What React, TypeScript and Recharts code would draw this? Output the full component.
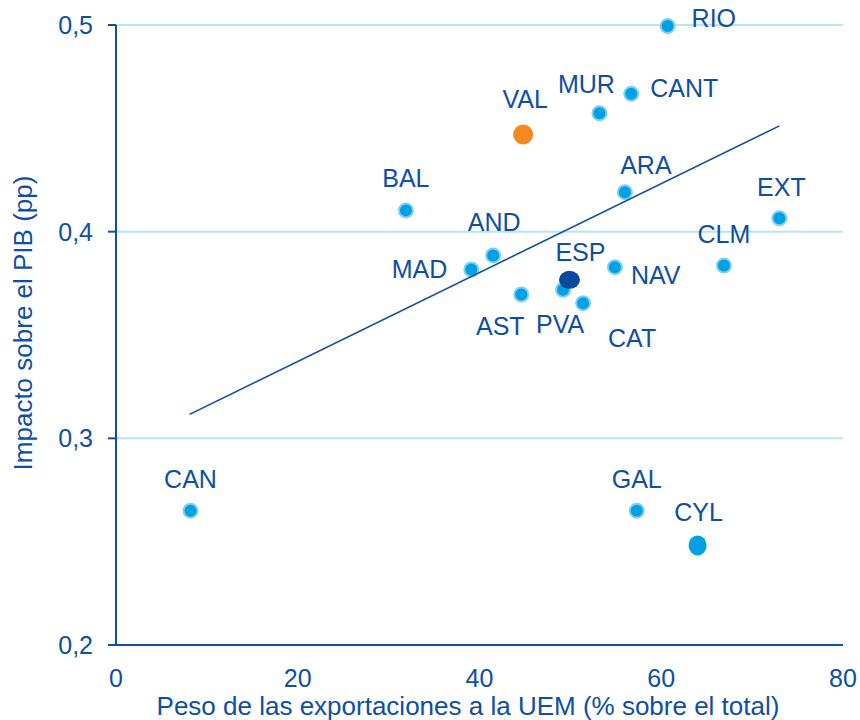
import React from 'react';
import {
  ScatterChart,
  Scatter,
  XAxis,
  YAxis,
  CartesianGrid,
  Label,
} from 'recharts';

// Regiones (ESP al final para que quede por encima de PVA)
const regions = ['RIO', 'CANT', 'MUR', 'VAL', 'ARA', 'BAL', 'EXT', 'AND', 'MAD', 'NAV', 'CLM', 'AST', 'PVA', 'CAT', 'CAN', 'GAL', 'CYL', 'ESP'];
// Peso de las exportaciones a la UEM (% sobre el total)
const exportShare = [60.7, 56.7, 53.2, 44.8, 56.0, 31.9, 73.0, 41.5, 39.1, 54.9, 66.9, 44.6, 49.2, 51.4, 8.2, 57.3, 64.0, 49.9];
// Impacto sobre el PIB (pp)
const gdpImpact = [0.4995, 0.4667, 0.4573, 0.447, 0.4191, 0.4103, 0.4065, 0.3885, 0.3817, 0.3828, 0.3836, 0.3696, 0.3719, 0.3654, 0.265, 0.265, 0.2482, 0.3767];

// Recta de tendencia (extremos)
const trendX = [8.1, 73.0];
const trendY = [0.3116, 0.4512];

const xTicks = [0, 20, 40, 60, 80];
const yTicks = [0.2, 0.3, 0.4, 0.5];

const DARK = '#0d4ea6';
const LIGHT = '#00a0e3';
const FONT = '"Liberation Sans", Arial, sans-serif';
const FS = 25;

// posición de cada etiqueta respecto al punto: dx, dy (línea base), anclaje
const labelPos: Record<string, [number, number, string]> = {
  RIO: [24, 1, 'start'],
  CANT: [19, 3, 'start'],
  MUR: [-13, -20, 'middle'],
  VAL: [2, -27, 'middle'],
  ARA: [21, -18, 'middle'],
  BAL: [0, -23, 'middle'],
  EXT: [2, -22, 'middle'],
  AND: [1, -24, 'middle'],
  MAD: [-24, 9, 'end'],
  ESP: [11, -19, 'middle'],
  NAV: [16, 17, 'start'],
  CLM: [0, -23, 'middle'],
  AST: [-21, 41, 'middle'],
  PVA: [-3, 43, 'middle'],
  CAT: [49, 44, 'middle'],
  CAN: [0, -23, 'middle'],
  GAL: [0, -23, 'middle'],
  CYL: [1, -24, 'middle'],
};

const special: Record<string, { fill: string; rx: number; ry: number }> = {
  VAL: { fill: '#f5891f', rx: 10, ry: 10 },
  ESP: { fill: '#0a4a9e', rx: 10.5, ry: 9 },
  CYL: { fill: LIGHT, rx: 9, ry: 10 },
};

const points = regions.map((name, i) => ({ name, x: exportShare[i], y: gdpImpact[i] }));
const trend = trendX.map((x, i) => ({ x, y: trendY[i] }));

const renderPoint = (props: any) => {
  const { cx, cy, payload } = props;
  const s = special[payload.name];
  const [dx, dy, anchor] = labelPos[payload.name] || [0, -24, 'middle'];
  return (
    <g>
      {s ? (
        <ellipse cx={cx} cy={cy} rx={s.rx} ry={s.ry} fill={s.fill} />
      ) : (
        <circle cx={cx} cy={cy} r={7} fill={LIGHT} stroke="#7fd0f2" strokeWidth={2} />
      )}
      <text
        x={cx + dx}
        y={cy + dy}
        textAnchor={anchor as any}
        fill={DARK}
        fontSize={FS}
        fontFamily={FONT}
      >
        {payload.name}
      </text>
    </g>
  );
};

const App = () => {
  return (
    <div style={{ position: 'absolute', left: 0, top: 0, width: 860, height: 720, background: '#fff' }}>
      <ScatterChart width={860} height={720} margin={{ top: 25, right: 17, left: 0, bottom: 0 }}>
        <CartesianGrid horizontal vertical={false} stroke="#b9e4f7" strokeWidth={2} />
        <XAxis
          type="number"
          dataKey="x"
          domain={[0, 80]}
          ticks={xTicks}
          height={75}
          tickLine={false}
          tickSize={0}
          tickMargin={24}
          axisLine={{ stroke: DARK, strokeWidth: 2 }}
          tick={{ fill: DARK, fontSize: FS, fontFamily: FONT }}
        >
          <Label
            content={() => (
              <text
                x={468}
                y={715}
                textAnchor="middle"
                fill={DARK}
                fontSize={26}
                fontFamily={FONT}
                style={{ whiteSpace: 'pre' }}
              >
                Peso de las exportaciones a la UEM (% sobre el total)
              </text>
            )}
          />
        </XAxis>
        <YAxis
          type="number"
          dataKey="y"
          domain={[0.2, 0.5]}
          ticks={yTicks}
          width={116}
          tickSize={8}
          tickMargin={15}
          tickLine={{ stroke: DARK, strokeWidth: 2 }}
          axisLine={{ stroke: DARK, strokeWidth: 2 }}
          tick={{ fill: DARK, fontSize: FS, fontFamily: FONT }}
          tickFormatter={(v: number) => v.toFixed(1).replace('.', ',')}
        >
          <Label
            content={() => (
              <text
                x={32}
                y={323}
                transform="rotate(-90 32 323)"
                textAnchor="middle"
                fill={DARK}
                fontSize={26}
                fontFamily={FONT}
              >
                Impacto sobre el PIB (pp)
              </text>
            )}
          />
        </YAxis>
        <Scatter data={points} shape={renderPoint} isAnimationActive={false} />
        <Scatter
          data={trend}
          line={{ stroke: DARK, strokeWidth: 1.6 }}
          shape={() => <g />}
          isAnimationActive={false}
        />
      </ScatterChart>
    </div>
  );
};

export default App;
